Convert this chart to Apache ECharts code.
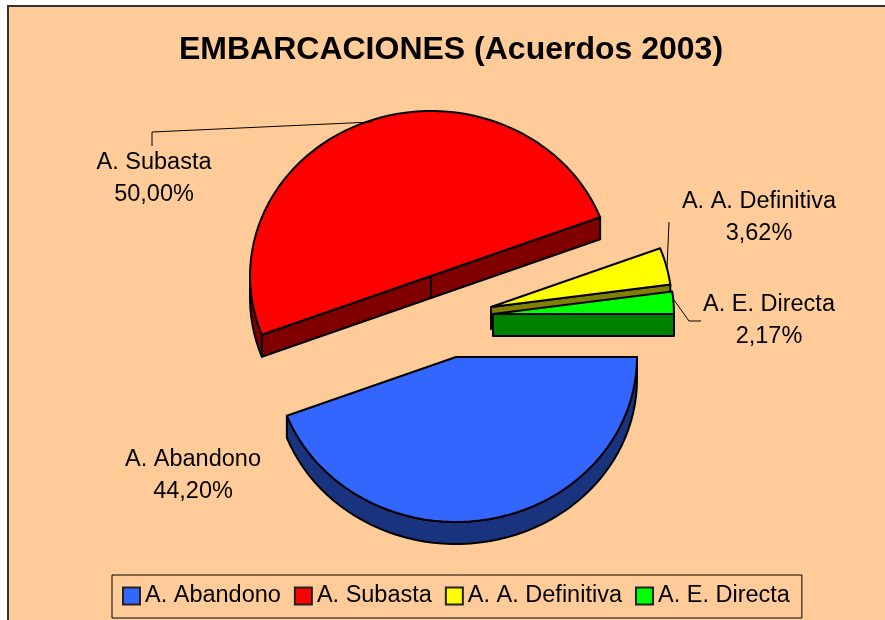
<!DOCTYPE html>
<html>
<head>
<meta charset="utf-8">
<style>html,body{margin:0;padding:0;background:#fff}#c{width:885px;height:620px}</style>
<script src="https://cdn.jsdelivr.net/npm/echarts@6/dist/echarts.min.js"></script>
</head>
<body>
<div id="c"></div>
<script>
var categories = ['A. Abandono', 'A. Subasta', 'A. A. Definitiva', 'A. E. Directa'];
var values = [44.20, 50.00, 3.62, 2.17];
var valueLabels = ['44,20%', '50,00%', '3,62%', '2,17%'];
var topColors = ['#3366FF', '#FF0000', '#FFFF00', '#00FF00'];
var sideColors = ['#1A337F', '#800000', '#808000', '#008000'];

// Layout of the exploded tilted pie (pixels)
var RX = 181, RY = 165, DEPTH = 22;
var origins = [[456, 357], [431, 276], [491, 307], [493, 314]];
var zOrder = [4, 1, 2, 3];
var labelPos = [[193, 476], [154, 179], [759, 218], [769, 321]];
var leaders = [
  null,
  [[152, 146], [152, 132], [372, 122]],
  [[669, 222], [667, 268]],
  [[674, 300], [689, 321], [701, 321]]
];

var total = values.reduce(function (a, b) { return a + b; }, 0);
var startFrac = values.map(function (v, i) {
  return values.slice(0, i).reduce(function (a, b) { return a + b; }, 0) / total;
});

function pt(o, deg, dy) {
  var r = deg * Math.PI / 180;
  return [o[0] + RX * Math.cos(r), o[1] + RY * Math.sin(r) + (dy || 0)];
}
function arc(o, a1, a2, dy) {
  var out = [], n = Math.max(2, Math.ceil((a2 - a1) / 3));
  for (var i = 0; i <= n; i++) out.push(pt(o, a1 + (a2 - a1) * i / n, dy));
  return out;
}
var EDGE = { stroke: '#000', lineWidth: 2, lineJoin: 'round' };
function poly(points, fill) {
  return { type: 'polygon', shape: { points: points }, style: Object.assign({ fill: fill }, EDGE) };
}

function makeRender(idx) {
  return function (params, api) {
    var v = api.value(0);
    var a1 = startFrac[idx] * 360, a2 = a1 + v / total * 360;
    var o = origins[idx], kids = [], side = sideColors[idx];
    // Faces that turn towards the viewer
    if (-Math.cos(a1 * Math.PI / 180) > 0) {
      var p = pt(o, a1);
      kids.push(poly([o, p, [p[0], p[1] + DEPTH], [o[0], o[1] + DEPTH]], side));
    }
    if (Math.cos(a2 * Math.PI / 180) > 0) {
      var q = pt(o, a2);
      kids.push(poly([o, q, [q[0], q[1] + DEPTH], [o[0], o[1] + DEPTH]], side));
    }
    var s1 = Math.max(a1, 0), s2 = Math.min(a2, 180);
    if (s2 > s1) {
      kids.push(poly(arc(o, s1, s2, 0).concat(arc(o, s1, s2, DEPTH).reverse()), side));
    }
    kids.push(poly([o].concat(arc(o, a1, a2, 0)), topColors[idx]));
    if (leaders[idx]) {
      kids.push({ type: 'polyline', shape: { points: leaders[idx] }, style: { fill: null, stroke: '#000', lineWidth: 1 } });
    }
    kids.push({
      type: 'text', x: labelPos[idx][0], y: labelPos[idx][1],
      style: {
        text: categories[idx] + '\n' + valueLabels[idx],
        fill: '#000', font: '23.5px "Liberation Sans"', lineHeight: 32,
        align: 'center', verticalAlign: 'middle'
      }
    });
    return { type: 'group', children: kids };
  };
}

var chart = echarts.init(document.getElementById('c'), null, { renderer: 'canvas' });
chart.setOption({
  animation: false,
  backgroundColor: '#FFFFFF',
  graphic: [{
    type: 'rect', z: -10, silent: true,
    shape: { x: 8, y: 6, width: 900, height: 640 },
    style: { fill: '#FFCC99', stroke: '#333', lineWidth: 2 }
  }],
  title: {
    text: 'EMBARCACIONES (Acuerdos 2003)',
    left: 446, top: 29, textAlign: 'center',
    textStyle: { fontFamily: 'Liberation Sans', fontWeight: 'bold', fontSize: 32, color: '#000' }
  },
  legend: {
    data: categories,
    left: 112, top: 575,
    orient: 'horizontal',
    padding: [9, 12, 10, 10],
    itemGap: 13, itemWidth: 17, itemHeight: 17,
    icon: 'rect',
    borderColor: '#000', borderWidth: 1, borderRadius: 0,
    itemStyle: { borderColor: '#222', borderWidth: 2 },
    textStyle: { fontFamily: 'Liberation Sans', fontSize: 23.5, color: '#000' },
    selectedMode: false
  },
  series: categories.map(function (name, i) {
    return {
      type: 'custom', name: name, coordinateSystem: 'none',
      z: zOrder[i], silent: true,
      itemStyle: { color: topColors[i] },
      renderItem: makeRender(i),
      data: [[values[i]]]
    };
  })
});
</script>
</body>
</html>
